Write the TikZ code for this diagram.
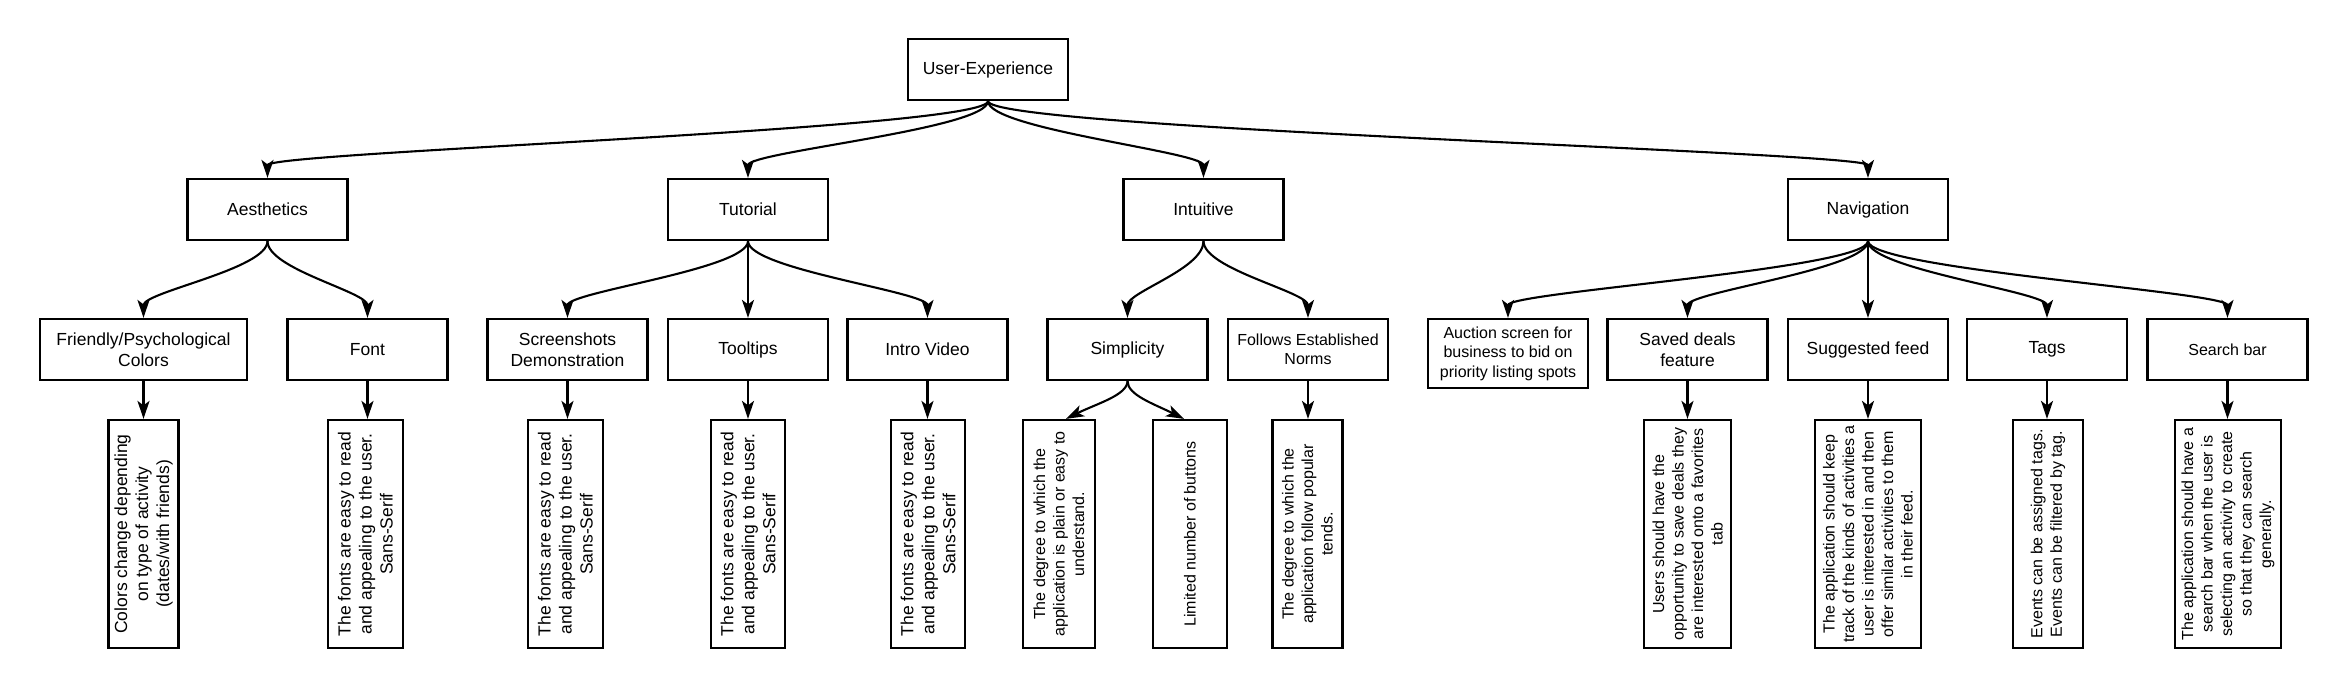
\documentclass[tikz,border=0pt]{standalone}
\usepackage{fontspec}
\setmainfont{Liberation Sans}
\usetikzlibrary{arrows.meta,calc}
\begin{document}
\begin{tikzpicture}[x=1pt,y=-1pt,
 box/.style={draw,line width=2.2pt,minimum width=160pt,minimum height=61pt,inner sep=2pt,align=center,font=\fontsize{17.5}{21}\selectfont},
 sbox/.style={box,font=\fontsize{16}{19.5}\selectfont},
 vbox/.style={draw,line width=2.2pt,rotate=90,minimum width=228pt,inner sep=0pt,align=center,font=\fontsize{17.5}{21}\selectfont},
 svbox/.style={vbox,font=\fontsize{16}{19.5}\selectfont},
 tip/.style={-{Stealth[length=18pt,width=12pt,inset=4.5pt]}},
 curve/.style={tip,line width=2.1pt},
 straight/.style={tip,line width=2.1pt}]
\useasboundingbox (0,0) rectangle (2348,688);
% level 0
\node[box] (ue) at (988,69.5) {User-Experience};
% level 1
\node[box] (aes) at (267.5,209.5) {Aesthetics};
\node[box] (tut) at (748,209.5) {Tutorial};
\node[box] (int) at (1203.5,209.5) {Intuitive};
\node[box] (nav) at (1868,209.5) {Navigation};
% level 2
\node[box,minimum width=207pt] (fr) at (143.5,349.5) {Friendly/Psychological\\Colors};
\node[box] (fo) at (367.5,349.5) {Font};
\node[box] (sc) at (567.5,349.5) {Screenshots\\Demonstration};
\node[box] (tt) at (748,349.5) {Tooltips};
\node[box] (iv) at (927.5,349.5) {Intro Video};
\node[box] (si) at (1127.5,349.5) {Simplicity};
\node[sbox] (fe) at (1308,349.5) {Follows Established\\Norms};
\node[sbox,minimum height=69pt] (au) at (1508,353.5) {Auction screen for\\business to bid on\\priority listing spots};
\node[box] (sd) at (1687.5,349.5) {Saved deals\\feature};
\node[box] (sf) at (1868,349.5) {Suggested feed};
\node[box] (tg) at (2047,349.5) {Tags};
\node[sbox] (sb) at (2227.5,349.5) {Search bar};
% level 3
\node[vbox,minimum height=70pt] (fr3) at (143.5,534) {Colors change depending\\on type of activity\\(dates/with friends)};
\node[vbox,minimum height=75pt] (fo3) at (365.3,534) {The fonts are easy to read\\and appealing to the user.\\Sans-Serif};
\node[vbox,minimum height=75pt] (sc3) at (565.3,534) {The fonts are easy to read\\and appealing to the user.\\Sans-Serif};
\node[vbox,minimum height=74pt] (tt3) at (748,534) {The fonts are easy to read\\and appealing to the user.\\Sans-Serif};
\node[vbox,minimum height=74pt] (iv3) at (928,534) {The fonts are easy to read\\and appealing to the user.\\Sans-Serif};
\node[svbox,minimum height=72pt] (si3a) at (1059,534) {The degree to which the\\application is plain or easy to\\understand.};
\node[svbox,minimum height=74pt] (si3b) at (1190,534) {Limited number of buttons};
\node[svbox,minimum height=70pt] (fe3) at (1307.5,534) {The degree to which the\\application follow popular\\tends.};
\node[svbox,minimum height=87pt] (sd3) at (1687.6,534) {Users should have the\\opportunity to save deals they\\are interested onto a favorites\\tab};
\node[svbox,minimum height=106pt] (sf3) at (1868,534) {The application should keep\\track of the kinds of activities a\\user is interested in and then\\offer similar activities to them\\in their feed.};
\node[svbox,minimum height=70pt] (tg3) at (2048,534) {Events can be assigned tags.\\Events can be filtered by tag.};
\node[svbox,minimum height=106pt] (sb3) at (2228,534) {The application should have a\\search bar when the user is\\selecting an activity to create\\so that they can search\\generally.};
% curved connectors
\foreach \c in {aes,tut,int,nav}
  \draw[curve] (ue.south) .. controls +(0,28) and +(0,-26) .. (\c.north);
\foreach \p/\c in {aes/fr,aes/fo,tut/sc,tut/tt,tut/iv,int/si,int/fe,nav/au,nav/sd,nav/sf,nav/tg,nav/sb}
  \draw[curve] (\p.south) .. controls +(0,28) and +(0,-26) .. (\c.north);
% straight connectors
\foreach \p/\c in {fr/fr3,fo/fo3,sc/sc3,tt/tt3,iv/iv3,fe/fe3,sd/sd3,sf/sf3,tg/tg3,sb/sb3}
  \draw[straight] (\p.south) -- (\p.south |- \c.east);
% simplicity children
\coordinate (sa) at ($(si3a.east)+(7,0)$);
\coordinate (sbt) at ($(si3b.east)+(-6,0)$);
\draw[curve] (si.south) .. controls +(0,14) and +(30,-15) .. (sa);
\draw[curve] (si.south) .. controls +(0,14) and +(-30,-15) .. (sbt);
\end{tikzpicture}
\end{document}
